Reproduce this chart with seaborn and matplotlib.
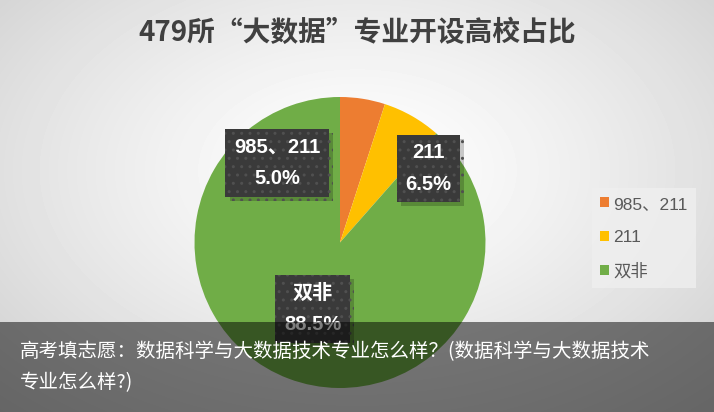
import numpy as np
import matplotlib
matplotlib.use("Agg")
import matplotlib.pyplot as plt
from matplotlib.patches import Patch
import matplotlib.patheffects as pe
import seaborn as sns

sns.set_theme(style="white")
plt.rcParams["font.family"] = ["Liberation Sans", "Noto Sans CJK SC", "DejaVu Sans"]

# data
categories = ["985、211", "211", "双非"]
shares = [5.0, 6.5, 88.5]
colors = ["#ED7D31", "#FFC000", "#70AD47"]
title = "479所“大数据”专业开设高校占比"
caption = "高考填志愿：数据科学与大数据技术专业怎么样？(数据科学与大数据技术\n专业怎么样?)"

W, H = 714, 412
fig = plt.figure(figsize=(W / 100, H / 100), dpi=100)

# gradient background
bg = fig.add_axes([0, 0, 1, 1], zorder=-5)
yy, xx = np.mgrid[0:H, 0:W]
d = np.sqrt(((xx - 357) / 520) ** 2 + ((yy - 170) / 330) ** 2)
shade = 1.0 - 0.2 * np.clip(d, 0, 1.2) ** 1.3
bg.imshow(shade, cmap="gray", vmin=0, vmax=1, extent=[0, W, H, 0], aspect="auto")
bg.set_axis_off()

# pie
cx, cy, r = 340, 242.5, 145.5
ax = fig.add_axes([(cx - r) / W, (H - cy - r) / H, 2 * r / W, 2 * r / H])
ax.pie(shares, colors=colors, startangle=90, counterclock=False,
       wedgeprops={"linewidth": 0})
ax.set_xlim(-1, 1)
ax.set_ylim(-1, 1)
ax.set_aspect("equal")
ax.set_axis_off()

label_pos = [(-0.433, 0.546), (0.608, 0.509), (-0.189, -0.457)]
for cat, val, (lx, ly) in zip(categories, shares, label_pos):
    t = ax.text(lx, ly, f"{cat}\n{val:.1f}%", ha="center", va="center",
                fontsize=14.5, fontweight="bold", color="white", linespacing=1.85,
                bbox={"boxstyle": "square,pad=0.42", "facecolor": "#3a3a3a",
                      "edgecolor": "#505050", "hatch": "..", "linewidth": 0})
    # soft drop shadow under the box
    t.get_bbox_patch().set_path_effects(
        [pe.SimplePatchShadow(offset=(3, -3), shadow_rgbFace="black", alpha=0.2), pe.Normal()])

fig.text(357 / W, 1 - 33 / H, title, ha="center", va="center", fontsize=20,
         fontweight="bold", color="#404040",
         family=["Noto Sans CJK SC", "DejaVu Sans"])

handles = [Patch(facecolor=c, edgecolor="none") for c in colors]
leg = fig.legend(handles, categories, loc="center", bbox_to_anchor=(644 / W, 1 - 238 / H),
                 frameon=True, fontsize=12.5, handlelength=0.5, handleheight=0.5,
                 handletextpad=0.25, labelspacing=1.05, borderpad=0.5, fancybox=False)
leg.get_frame().set_facecolor("#efefef")
leg.get_frame().set_edgecolor("none")
for t in leg.get_texts():
    t.set_color("#595959")

# caption band
band = fig.add_axes([0, 0, 1, 90 / H], zorder=10)
band.set_facecolor((0, 0, 0, 0.5))
band.set_xticks([])
band.set_yticks([])
for s in band.spines.values():
    s.set_visible(False)
band.text(20 / W, 0.5, caption, transform=band.transAxes, ha="left", va="center",
          fontsize=14, color="white", linespacing=1.6,
          family=["Noto Sans CJK SC", "DejaVu Sans"])

fig.savefig("out.png", dpi=100)
